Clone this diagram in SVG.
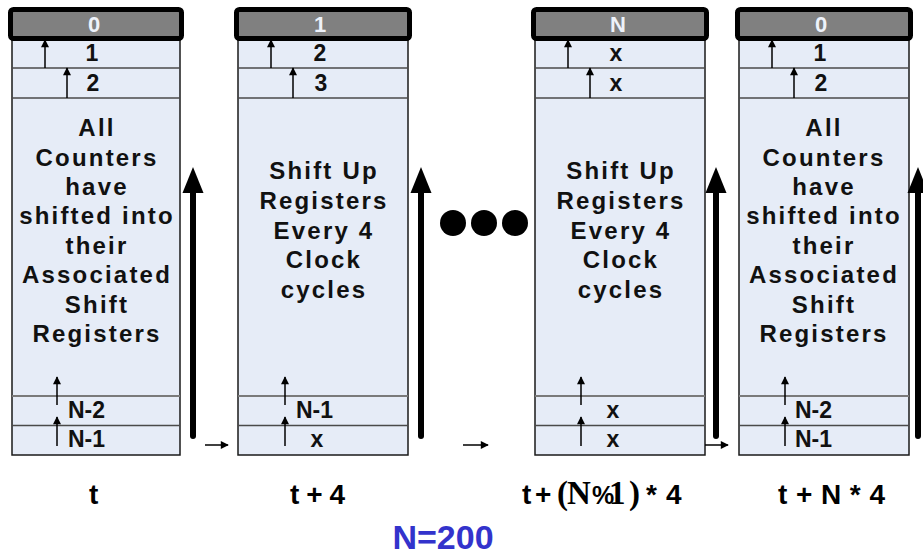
<svg xmlns="http://www.w3.org/2000/svg" width="923" height="557" viewBox="0 0 923 557">
<defs>
<style>
.col{fill:#e6ecf7;stroke:#1a1a1a;stroke-width:1.5}
.hdr{fill:#808080;stroke:#000;stroke-width:5}
.ht{fill:#eef2fa;font-family:"Liberation Sans",Arial,sans-serif;font-weight:bold;font-size:22px;text-anchor:middle}
.l1{stroke:#4a4a4a;stroke-width:1.5}
.l2{stroke:#7a7a7a;stroke-width:2.2}
.rt{fill:#111;font-family:"Liberation Sans",Arial,sans-serif;font-weight:bold;font-size:23px;text-anchor:middle}
.rl{fill:#111;font-family:"Liberation Sans",Arial,sans-serif;font-weight:bold;font-size:23px}
.bt{fill:#111;font-family:"Liberation Sans",Arial,sans-serif;font-weight:bold;font-size:24px;letter-spacing:2.2px;text-anchor:middle}
.sa{stroke:#000;stroke-width:1.5;fill:none;marker-end:url(#sh)}
.ba{stroke:#000;stroke-width:6;fill:none;stroke-linecap:round}
.lab{fill:#000;font-family:"Liberation Sans",Arial,sans-serif;font-weight:bold;font-size:28px}
.ser{font-family:"Liberation Serif","Times New Roman",serif;font-size:33px}
</style>
<marker id="sh" viewBox="0 0 10 10" refX="9" refY="5" markerWidth="10" markerHeight="8" markerUnits="userSpaceOnUse" orient="auto"><path d="M0,0 L10,5 L0,10 z" fill="#000"/></marker>
<marker id="sh2" viewBox="0 0 10 10" refX="9" refY="5" markerWidth="11" markerHeight="8" markerUnits="userSpaceOnUse" orient="auto"><path d="M0,0 L10,5 L0,10 z" fill="#000"/></marker>
</defs>
<rect width="923" height="557" fill="#fff"/>

<g id="col1">
<rect class="col" x="12" y="40" width="168" height="415"/>
<line class="l1" x1="12" y1="68" x2="180" y2="68"/>
<line class="l1" x1="12" y1="98" x2="180" y2="98"/>
<line class="l2" x1="12" y1="396" x2="180" y2="396"/>
<line class="l1" x1="12" y1="425.5" x2="180" y2="425.5"/>
<rect class="hdr" x="10.5" y="9.5" width="171" height="29" rx="3"/>
<text class="ht" x="94" y="32">0</text>
<text class="rt" x="92" y="61">1</text>
<text class="rt" x="93" y="91">2</text>
<text class="rl" x="68" y="418">N-2</text>
<text class="rl" x="68" y="447">N-1</text>
<text class="bt" x="97" y="136">All</text>
<text class="bt" x="97" y="166">Counters</text>
<text class="bt" x="97" y="195">have</text>
<text class="bt" x="97" y="224">shifted into</text>
<text class="bt" x="97" y="254">their</text>
<text class="bt" x="97" y="283">Associated</text>
<text class="bt" x="97" y="313">Shift</text>
<text class="bt" x="97" y="342">Registers</text>
</g>

<g id="col2">
<rect class="col" x="238" y="40" width="170" height="415"/>
<line class="l1" x1="238" y1="68" x2="408" y2="68"/>
<line class="l1" x1="238" y1="98" x2="408" y2="98"/>
<line class="l2" x1="238" y1="396" x2="408" y2="396"/>
<line class="l1" x1="238" y1="425.5" x2="408" y2="425.5"/>
<rect class="hdr" x="236.5" y="9.5" width="173" height="29" rx="3"/>
<text class="ht" x="320" y="32">1</text>
<text class="rt" x="320" y="61">2</text>
<text class="rt" x="321" y="91">3</text>
<text class="rl" x="296" y="418">N-1</text>
<text class="rt" x="317" y="447">x</text>
<text class="bt" x="324" y="179">Shift Up</text>
<text class="bt" x="324" y="209">Registers</text>
<text class="bt" x="324" y="239">Every 4</text>
<text class="bt" x="324" y="268">Clock</text>
<text class="bt" x="324" y="298">cycles</text>
</g>

<g id="col3">
<rect class="col" x="535" y="40" width="170" height="415"/>
<line class="l1" x1="535" y1="68" x2="705" y2="68"/>
<line class="l1" x1="535" y1="98" x2="705" y2="98"/>
<line class="l2" x1="535" y1="396" x2="705" y2="396"/>
<line class="l1" x1="535" y1="425.5" x2="705" y2="425.5"/>
<rect class="hdr" x="533.5" y="9.5" width="173" height="29" rx="3"/>
<text class="ht" x="618" y="32">N</text>
<text class="rt" x="616" y="61">x</text>
<text class="rt" x="616" y="91">x</text>
<text class="rt" x="613" y="418">x</text>
<text class="rt" x="613" y="447">x</text>
<text class="bt" x="621" y="179">Shift Up</text>
<text class="bt" x="621" y="209">Registers</text>
<text class="bt" x="621" y="239">Every 4</text>
<text class="bt" x="621" y="268">Clock</text>
<text class="bt" x="621" y="298">cycles</text>
</g>

<g id="col4">
<rect class="col" x="739" y="40" width="170" height="415"/>
<line class="l1" x1="739" y1="68" x2="909" y2="68"/>
<line class="l1" x1="739" y1="98" x2="909" y2="98"/>
<line class="l2" x1="739" y1="396" x2="909" y2="396"/>
<line class="l1" x1="739" y1="425.5" x2="909" y2="425.5"/>
<rect class="hdr" x="737.5" y="9.5" width="173" height="29" rx="3"/>
<text class="ht" x="821" y="32">0</text>
<text class="rt" x="820" y="61">1</text>
<text class="rt" x="821" y="91">2</text>
<text class="rl" x="795" y="418">N-2</text>
<text class="rl" x="795" y="447">N-1</text>
<text class="bt" x="824" y="136">All</text>
<text class="bt" x="824" y="166">Counters</text>
<text class="bt" x="824" y="195">have</text>
<text class="bt" x="824" y="224">shifted into</text>
<text class="bt" x="824" y="254">their</text>
<text class="bt" x="824" y="283">Associated</text>
<text class="bt" x="824" y="313">Shift</text>
<text class="bt" x="824" y="342">Registers</text>
</g>

<g id="dots">
<circle cx="453" cy="223" r="13"/>
<circle cx="484" cy="223" r="13"/>
<circle cx="515" cy="223" r="13"/>
</g>

<g id="connectors">
<line class="sa" x1="45" y1="68" x2="45" y2="40"/>
<line class="sa" x1="67" y1="98" x2="67" y2="68"/>
<line class="sa" x1="57" y1="405" x2="57" y2="377"/>
<line class="sa" x1="57" y1="446" x2="57" y2="417"/>
<line class="sa" x1="271" y1="68" x2="271" y2="40"/>
<line class="sa" x1="293" y1="98" x2="293" y2="68"/>
<line class="sa" x1="285" y1="405" x2="285" y2="377"/>
<line class="sa" x1="285" y1="446" x2="285" y2="417"/>
<line class="sa" x1="568" y1="68" x2="568" y2="40"/>
<line class="sa" x1="590" y1="98" x2="590" y2="68"/>
<line class="sa" x1="581" y1="405" x2="581" y2="377"/>
<line class="sa" x1="581" y1="446" x2="581" y2="417"/>
<line class="sa" x1="772" y1="68" x2="772" y2="40"/>
<line class="sa" x1="794" y1="98" x2="794" y2="68"/>
<line class="sa" x1="785" y1="405" x2="785" y2="377"/>
<line class="sa" x1="785" y1="446" x2="785" y2="417"/>
<line x1="205" y1="445" x2="228" y2="445" stroke="#000" stroke-width="1.5" marker-end="url(#sh2)"/>
<line x1="463" y1="445" x2="488" y2="445" stroke="#000" stroke-width="1.5" marker-end="url(#sh2)"/>
<line x1="705" y1="445" x2="728" y2="445" stroke="#000" stroke-width="1.5" marker-end="url(#sh2)"/>
<line class="ba" x1="193" y1="436" x2="193" y2="190"/>
<path d="M193,167 L203.5,193 L182.5,193 Z" fill="#000"/>
<line class="ba" x1="421" y1="436" x2="421" y2="190"/>
<path d="M421,167 L431.5,193 L410.5,193 Z" fill="#000"/>
<line class="ba" x1="716" y1="436" x2="716" y2="190"/>
<path d="M716,167 L726.5,193 L705.5,193 Z" fill="#000"/>
<line class="ba" x1="918" y1="436" x2="918" y2="190"/>
<path d="M918,167 L928.5,193 L907.5,193 Z" fill="#000"/>
</g>

<g id="labels">
<text class="lab" x="89" y="504">t</text>
<text class="lab" x="290" y="504" textLength="55" lengthAdjust="spacing">t+4</text>
<text class="lab" y="504"><tspan x="522">t</tspan><tspan x="535">+</tspan><tspan class="ser" x="557">(</tspan><tspan class="ser" x="567">N</tspan><tspan x="592" font-size="25px">%</tspan><tspan class="ser" x="609">1</tspan><tspan class="ser" x="629">)</tspan><tspan x="646">*</tspan><tspan x="666">4</tspan></text>
<text class="lab" x="778" y="504" textLength="107" lengthAdjust="spacing">t+N*4</text>
<text x="443" y="549" fill="#3333cc" font-family="Liberation Sans,Arial,sans-serif" font-weight="bold" font-size="34px" text-anchor="middle">N=200</text>
</g>
</svg>
